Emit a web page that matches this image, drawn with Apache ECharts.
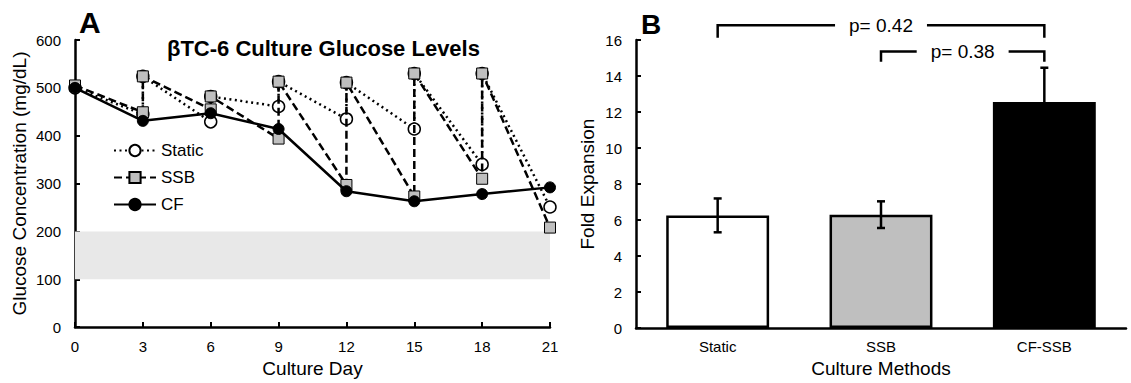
<!DOCTYPE html>
<html><head><meta charset="utf-8">
<script src="https://cdn.jsdelivr.net/npm/echarts@6/dist/echarts.min.js"></script>
<style>html,body{margin:0;padding:0;background:#fff}#c{width:1131px;height:383px}</style>
</head><body><div id="c"></div>
<script>
// ---- Panel A data ----
const staticDays = [0,3,3,6,6,9,9,12,12,15,15,18,18,21];
const staticValues = [500,445,524,429,482,461,513,435,511,414,530,340,530,251];
const ssbDays = [0,3,3,6,6,9,9,12,12,15,15,18,18,21];
const ssbValues = [505,449,524,455,482,394,513,297,511,273,530,310,530,208];
const cfDays = [0,3,6,9,12,15,18,21];
const cfValues = [500,431,447,414,284,263,278,292];
const targetRange = [100,200];

// ---- Panel B data ----
const methods = ['Static','SSB','CF-SSB'];
const foldMean = [6.26,6.3,12.56];
const foldErr = [0.94,0.74,1.9];
const barColors = ['#ffffff','#bfbfbf','#000000'];
const pFrom = [0,1];
const pTo = [2,2];
const pLevel = [16.82,15.36];
const pLeg = [16.12,14.79];
const pLabels = ['p= 0.42','p= 0.38'];

const FONT = 'Liberation Sans, Arial, sans-serif';
const pair = (xs, ys) => xs.map((x,i)=>[x, ys[i]]);

const axisCommon = {
  axisLine:{show:true, lineStyle:{color:'#000', width:2.5}},
  axisTick:{show:true, inside:true, length:5, lineStyle:{color:'#000', width:2}},
  axisLabel:{color:'#000', fontSize:15, fontFamily:FONT},
  splitLine:{show:false},
  nameTextStyle:{color:'#000', fontSize:19, fontFamily:FONT},
  nameLocation:'middle'
};

const chart = echarts.init(document.getElementById('c'), null, {renderer:'svg'});
chart.setOption({
  animation:false,
  backgroundColor:'#fff',
  textStyle:{fontFamily:FONT},
  title:[
    {text:'A', left:74, top:2, textStyle:{fontSize:30, fontWeight:'bold', color:'#000', fontFamily:FONT}},
    {text:'B', left:636, top:5, textStyle:{fontSize:28, fontWeight:'bold', color:'#000', fontFamily:FONT}},
    {text:'βTC-6 Culture Glucose Levels', left:162, top:32, textStyle:{fontSize:22, fontWeight:'bold', color:'#000', fontFamily:FONT}}
  ],
  legend:{
    orient:'vertical', left:108, top:137, itemWidth:42, itemHeight:14, itemGap:10,
    data:['Static','SSB','CF'],
    textStyle:{fontSize:17, color:'#000', fontFamily:FONT},
    selectedMode:false
  },
  grid:[
    {left:75, top:40, width:475, height:291},
    {left:636, top:40, right:5, height:292}
  ],
  xAxis:[
    Object.assign({}, axisCommon, {gridIndex:0, type:'value', min:0, max:21, interval:3,
      name:'Culture Day', nameGap:29, axisLabel:Object.assign({}, axisCommon.axisLabel, {margin:12})}),
    Object.assign({}, axisCommon, {gridIndex:1, type:'category', data:methods,
      axisTick:{show:false}, name:'Culture Methods', nameGap:27,
      axisLabel:Object.assign({}, axisCommon.axisLabel, {margin:11})})
  ],
  yAxis:[
    Object.assign({}, axisCommon, {gridIndex:0, type:'value', min:0, max:600, interval:100,
      name:'Glucose Concentration (mg/dL)', nameGap:46, axisLabel:Object.assign({}, axisCommon.axisLabel, {margin:14})}),
    Object.assign({}, axisCommon, {gridIndex:1, type:'value', min:0, max:16, interval:2,
      name:'Fold Expansion', nameGap:39, axisLabel:Object.assign({}, axisCommon.axisLabel, {margin:14})})
  ],
  series:[
    {type:'line', name:'band', xAxisIndex:0, yAxisIndex:0, data:[], z:1, silent:true,
      markArea:{silent:true, itemStyle:{color:'#e8e8e8'}, data:[[{yAxis:targetRange[0]},{yAxis:targetRange[1]}]]}},
    {type:'line', name:'Static', xAxisIndex:0, yAxisIndex:0, data:pair(staticDays, staticValues),
      symbol:'circle', symbolSize:12, z:3,
      itemStyle:{color:'#fff', borderColor:'#000', borderWidth:1.5},
      lineStyle:{color:'#000', width:2.5, type:[2,3.5]}},
    {type:'line', name:'SSB', xAxisIndex:0, yAxisIndex:0, data:pair(ssbDays, ssbValues),
      symbol:'rect', symbolSize:11, z:4,
      itemStyle:{color:'#bfbfbf', borderColor:'#000', borderWidth:1},
      lineStyle:{color:'#000', width:2.5, type:[8,4]}},
    {type:'line', name:'CF', xAxisIndex:0, yAxisIndex:0, data:pair(cfDays, cfValues),
      symbol:'circle', symbolSize:11, z:5,
      itemStyle:{color:'#000', borderColor:'#000', borderWidth:1},
      lineStyle:{color:'#000', width:2.5, type:'solid'}},
    {type:'bar', name:'fold', xAxisIndex:1, yAxisIndex:1, barWidth:'63%',
      data:foldMean.map((v,i)=>({value:v, itemStyle:{color:barColors[i]}})),
      itemStyle:{borderColor:'#000', borderWidth:2.5}},
    {type:'custom', name:'err', xAxisIndex:1, yAxisIndex:1, z:6,
      data:methods.map((m,i)=>[i, foldMean[i], foldErr[i]]),
      renderItem:function(params, api){
        const i = api.value(0), m = api.value(1), e = api.value(2);
        const top = api.coord([i, m+e]), bot = api.coord([i, m-e]);
        const w = 4;
        const ls = {stroke:'#000', lineWidth:2.5};
        return {type:'group', children:[
          {type:'line', shape:{x1:top[0], y1:top[1], x2:bot[0], y2:bot[1]}, style:ls},
          {type:'line', shape:{x1:top[0]-w, y1:top[1], x2:top[0]+w, y2:top[1]}, style:ls},
          {type:'line', shape:{x1:bot[0]-w, y1:bot[1], x2:bot[0]+w, y2:bot[1]}, style:ls}
        ]};
      }},
    {type:'custom', name:'brackets', xAxisIndex:1, yAxisIndex:1, z:7, clip:false,
      data:pFrom.map((f,i)=>[f, pTo[i], pLevel[i], pLeg[i], i]),
      renderItem:function(params, api){
        const f = api.value(0), t = api.value(1), lv = api.value(2), lg = api.value(3);
        const idx = params.dataIndex;
        const a = api.coord([f, lg]), b = api.coord([f, lv]), c = api.coord([t, lv]), d = api.coord([t, lg]);
        return {type:'group', children:[
          {type:'polyline', shape:{points:[a,b,c,d]}, style:{stroke:'#000', lineWidth:2.5, fill:null}},
          {type:'text', x:(b[0]+c[0])/2, y:b[1], z2:10,
            style:{text:pLabels[idx], fontSize:19, fontFamily:FONT, fill:'#000', align:'center', verticalAlign:'middle',
              backgroundColor:'#fff', padding:[2,14]}}
        ]};
      }}
  ]
});
</script></body></html>
